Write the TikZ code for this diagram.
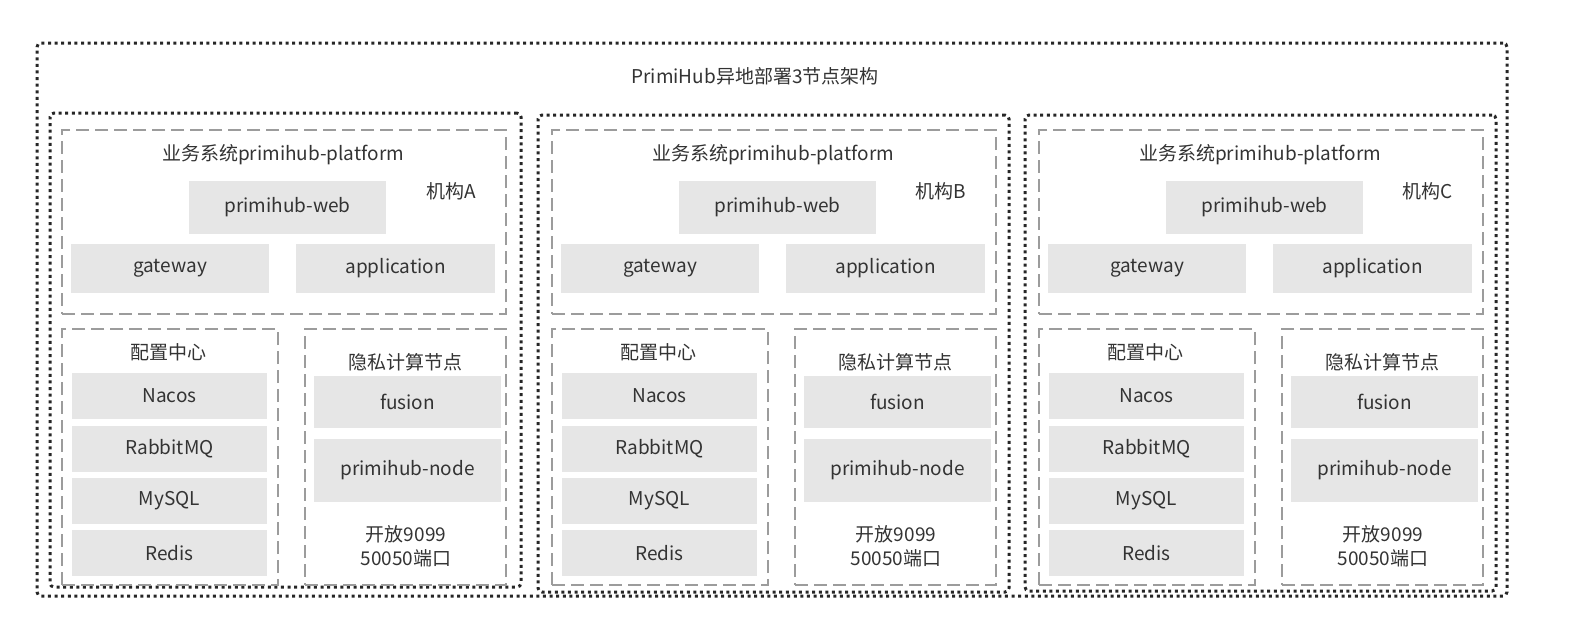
\documentclass[tikz,border=0pt]{standalone}
\usepackage{fontspec}
\setmainfont{Noto Sans CJK SC}
\usetikzlibrary{fit}
\definecolor{boxgray}{HTML}{E6E6E6}
\definecolor{dashgray}{HTML}{9C9C9C}
\definecolor{txt}{HTML}{333333}
\definecolor{dotc}{HTML}{262626}
\begin{document}
\begin{tikzpicture}[x=0.5pt,y=-0.5pt,
  font=\fontsize{9.5pt}{12pt}\selectfont, text=txt,
  gbox/.style={fill=boxgray, draw=none, inner sep=0pt},
  dbox/.style={draw=dashgray, line width=0.8pt, dash pattern=on 6.5pt off 3pt, inner sep=0pt},
  dotbox/.style={draw=dotc, line width=1.5pt, dash pattern=on 1.5pt off 1.8pt, inner sep=0pt, rounded corners=2pt},
  lbl/.style={inner sep=0pt, align=center}]
\useasboundingbox (0,0) rectangle (1573,634);
\node[dotbox, fit={(37,43) (1507,596)}] (outer) {};
\node[lbl] (title) at (755,76) {PrimiHub异地部署3节点架构};
\foreach \xa/\ya/\xb/\yb/\l in {50/113/521/587/A, 538/115/1009/592/B, 1025/115/1496/591/C}{
  \node[dotbox, fit={(\xa,\ya) (\xb,\yb)}] (org\l) {};
}
\foreach \o/\l in {0/A,490/B,977/C}{
  \begin{scope}[xshift=\o*0.5pt]
    \node[dbox, fit={(62,130) (506,314)}] (plat\l) {};
    \node[lbl] (plattitle\l) at (283,155) {业务系统primihub-platform};
    \node[lbl] (orgname\l) at (451,191) {机构\l};
    \node[gbox, fit={(189,181) (386,234)}, label={[lbl]center:primihub-web}] (web\l) {};
    \node[gbox, fit={(71,244) (269,293)}, label={[lbl]center:gateway}] (gw\l) {};
    \node[gbox, fit={(296,244) (495,293)}, label={[lbl]center:application}] (app\l) {};
    \node[dbox, fit={(62,329) (278,585)}] (cfg\l) {};
    \node[lbl] (cfgtitle\l) at (168,352) {配置中心};
    \node[gbox, fit={(72,373) (267,419)}, label={[lbl]center:Nacos}] (nacos\l) {};
    \node[gbox, fit={(72,426) (267,472)}, label={[lbl]center:RabbitMQ}] (mq\l) {};
    \node[gbox, fit={(72,478) (267,524)}, label={[lbl]center:MySQL}] (sql\l) {};
    \node[gbox, fit={(72,530) (267,576)}, label={[lbl]center:Redis}] (redis\l) {};
    \node[dbox, fit={(305,329) (506,585)}] (priv\l) {};
    \node[lbl] (privtitle\l) at (405,362) {隐私计算节点};
    \node[gbox, fit={(314,376) (501,428)}, label={[lbl]center:fusion}] (fusion\l) {};
    \node[gbox, fit={(314,439) (501,502)}, label={[lbl]center:primihub-node}] (node\l) {};
    \node[lbl] (port\l) at (406,546) {开放9099\\50050端口};
  \end{scope}
}
\end{tikzpicture}
\end{document}
